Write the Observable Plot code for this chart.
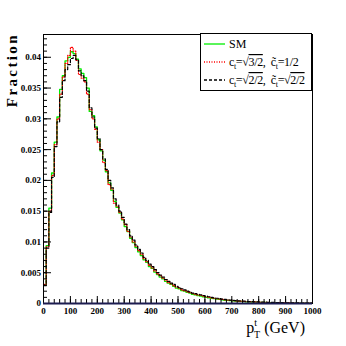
<!DOCTYPE html>
<html><head><meta charset="utf-8">
<script src="https://cdn.jsdelivr.net/npm/d3@7"></script>
<script src="https://cdn.jsdelivr.net/npm/@observablehq/plot@0.6"></script>
<style>body{margin:0;background:#fff}</style>
</head><body><div id="chart"></div>
<script>
// histogram: 100 bins of 10 GeV from 0 to 1000
const binLowEdges = d3.range(0, 1000, 10);
const xMax = 1000;

const smValues = [
0.0030,0.0094,0.0155,0.0212,0.0262,0.0303,0.0348,0.0370,0.0394,0.0400,
0.0409,0.0406,0.0397,0.0381,0.0374,0.0367,0.0350,0.0312,0.0305,0.0287,
0.0266,0.0248,0.0233,0.0214,0.0196,0.0184,0.0166,0.0156,0.0147,0.0136,
0.0125,0.0117,0.0106,0.0099,0.0091,0.0084,0.0078,0.0071,0.0067,0.0060,
0.0057,0.0051,0.0047,0.0043,0.0040,0.0036,0.0033,0.0031,0.0028,0.0025,
0.0024,0.0021,0.0020,0.0018,0.0017,0.0015,0.0014,0.0013,0.0012,0.0011,
0.0010,0.0009,0.00085,0.00078,0.00070,0.00066,0.00060,0.00053,0.00050,0.00046,
0.00042,0.00040,0.00036,0.00033,0.00031,0.00028,0.00026,0.00024,0.00022,0.00021,
0.00019,0.00018,0.00016,0.00015,0.00014,0.00013,0.00012,0.00011,0.00010,0.00010,
0.00009,0.00008,0.00008,0.00007,0.00007,0.00006,0.00006,0.00005,0.00005,0.00005];

const redValues = [
0.0031,0.0092,0.0150,0.0208,0.0258,0.0300,0.0340,0.0368,0.0390,0.0403,
0.0416,0.0410,0.0395,0.0372,0.0366,0.0360,0.0340,0.0315,0.0300,0.0283,
0.0262,0.0250,0.0229,0.0216,0.0193,0.0186,0.0163,0.0158,0.0148,0.0137,
0.0128,0.0117,0.0108,0.0100,0.0093,0.0086,0.0080,0.0073,0.0068,0.0062,
0.0058,0.0053,0.0048,0.0045,0.0041,0.0038,0.0034,0.0032,0.0029,0.0027,
0.0025,0.0022,0.0021,0.0019,0.0018,0.0016,0.0015,0.0014,0.0013,0.0012,
0.0011,0.0010,0.00092,0.00085,0.00077,0.00072,0.00066,0.00060,0.00055,0.00051,
0.00047,0.00043,0.00040,0.00037,0.00034,0.00031,0.00029,0.00027,0.00025,0.00023,
0.00021,0.00020,0.00018,0.00017,0.00016,0.00015,0.00014,0.00013,0.00012,0.00011,
0.00010,0.00010,0.00009,0.00008,0.00008,0.00007,0.00007,0.00006,0.00006,0.00006];

const blackValues = [
0.0029,0.0090,0.0148,0.0205,0.0255,0.0295,0.0335,0.0362,0.0380,0.0388,
0.0398,0.0403,0.0396,0.0378,0.0370,0.0362,0.0345,0.0318,0.0303,0.0285,
0.0268,0.0250,0.0235,0.0218,0.0200,0.0188,0.0170,0.0160,0.0150,0.0140,
0.0129,0.0120,0.0110,0.0103,0.0095,0.0088,0.0082,0.0075,0.0070,0.0064,
0.0060,0.0055,0.0050,0.0046,0.0043,0.0039,0.0036,0.0033,0.0031,0.0028,
0.0026,0.0024,0.0022,0.0020,0.0019,0.0017,0.0016,0.0015,0.0014,0.0013,
0.0012,0.0011,0.0010,0.00092,0.00085,0.00078,0.00072,0.00066,0.00061,0.00056,
0.00052,0.00048,0.00044,0.00041,0.00038,0.00035,0.00032,0.00030,0.00028,0.00026,
0.00024,0.00022,0.00021,0.00019,0.00018,0.00017,0.00015,0.00014,0.00013,0.00012,
0.00012,0.00011,0.00010,0.00009,0.00009,0.00008,0.00008,0.00007,0.00007,0.00006];

const yTicks = [0, 0.005, 0.01, 0.015, 0.02, 0.025, 0.03, 0.035, 0.04];
const yTickLabels = ["0", "0.005", "0.01", "0.015", "0.02", "0.025", "0.03", "0.035", "0.04"];
const yMinorTicks = d3.range(0, 0.0437, 0.001);
const xTicks = [0, 100, 200, 300, 400, 500, 600, 700, 800, 900, 1000];
const xMinorTicks = d3.range(0, 1001, 20);

function steps(values) {
  const pts = binLowEdges.map((x, i) => ({x, y: values[i]}));
  pts.push({x: xMax, y: values[values.length - 1]});
  return pts;
}

const font = "Liberation Serif, Times New Roman, serif";
const plot = Plot.plot({
  width: 346, height: 346,
  marginLeft: 43, marginRight: 34, marginTop: 34, marginBottom: 43,
  x: {domain: [0, 1000]},
  y: {domain: [0, 0.0437]},
  style: {fontFamily: font, background: "white", overflow: "visible"},
  marks: [
    Plot.line(steps(smValues), {x: "x", y: "y", curve: "step-after", stroke: "#00ee00", strokeWidth: 1.3}),
    Plot.line(steps(redValues), {x: "x", y: "y", curve: "step-after", stroke: "#ff0000", strokeWidth: 1.2, strokeDasharray: "1,1.5"}),
    Plot.line(steps(blackValues), {x: "x", y: "y", curve: "step-after", stroke: "#000", strokeWidth: 1.2, strokeDasharray: "3,2"}),
    Plot.axisY({ticks: yMinorTicks, tickSize: -4, tickFormat: () => "", label: null, stroke: "#000"}),
    Plot.axisY({ticks: yTicks, tickSize: -8, tickPadding: 10.5, label: null, stroke: "#000",
      tickFormat: d => yTickLabels[yTicks.findIndex(t => Math.abs(t - d) < 1e-9)],
      fontSize: 9, fontWeight: "bold", letterSpacing: "-0.6px"}),
    Plot.axisX({ticks: xMinorTicks, tickSize: -4, tickFormat: () => "", label: null, stroke: "#000"}),
    Plot.axisX({ticks: xTicks, tickSize: -7, tickPadding: 11, label: null, stroke: "#000",
      tickFormat: d => String(d), fontSize: 9, fontWeight: "bold", letterSpacing: "-0.7px"}),
    Plot.frame({stroke: "#000"}),
    Plot.ruleY([0], {stroke: "#1c1c50", strokeWidth: 2})
  ]
});
document.getElementById("chart").appendChild(plot);

const svg = d3.select(plot);
// y title
svg.append("text")
  .attr("transform", "translate(17,33) rotate(-90)")
  .attr("text-anchor", "end")
  .attr("font-family", font).attr("font-weight", "bold").attr("font-size", 15)
  .attr("letter-spacing", "2.4px")
  .text("Fraction");

// x title
const xt = svg.append("text")
  .attr("x", 305).attr("y", 333).attr("text-anchor", "end")
  .attr("font-family", font).attr("font-size", 16);
xt.append("tspan").text("p");
xt.append("tspan").attr("font-size", 10).attr("dy", -7).text("t");
xt.append("tspan").attr("font-size", 10).attr("dx", -3).attr("dy", 12).text("T");
xt.append("tspan").attr("dy", -5).text(" (GeV)");

// legend
const lg = svg.append("g").attr("text-anchor", "start");
lg.append("rect").attr("x", 200.5).attr("y", 33.5).attr("width", 111).attr("height", 57)
  .attr("fill", "white").attr("stroke", "#000");
const rows = [
  {y: 44, stroke: "#00ee00", dash: null},
  {y: 62, stroke: "#ff0000", dash: "1,1.5"},
  {y: 80, stroke: "#000", dash: "3,2"}
];
rows.forEach(r => {
  lg.append("line").attr("x1", 204).attr("x2", 225).attr("y1", r.y).attr("y2", r.y)
    .attr("stroke", r.stroke).attr("stroke-width", 1.3).attr("stroke-dasharray", r.dash);
});
function legendText(y) {
  return lg.append("text").attr("x", 229).attr("y", y).attr("text-anchor", "start")
    .attr("font-family", font).attr("font-size", 12);
}
legendText(48).text("SM");
function cRow(y, a, b) {
  const t = legendText(y).attr("letter-spacing", "-0.35px");
  t.append("tspan").text("c");
  t.append("tspan").attr("font-size", 8).attr("dy", 3).text("t");
  t.append("tspan").attr("dy", -3).text("=√");
  t.append("tspan").attr("text-decoration", "overline").text(a);
  t.append("tspan").text(",  c̃");
  t.append("tspan").attr("font-size", 8).attr("dy", 3).text("t");
  t.append("tspan").attr("dy", -3).text("=");
  if (b.startsWith("√")) {
    t.append("tspan").text("√");
    t.append("tspan").attr("text-decoration", "overline").text(b.slice(1));
  } else t.append("tspan").text(b);
}
cRow(66, "3/2", "1/2");
cRow(84, "2/2", "√2/2");
</script>
</body></html>
